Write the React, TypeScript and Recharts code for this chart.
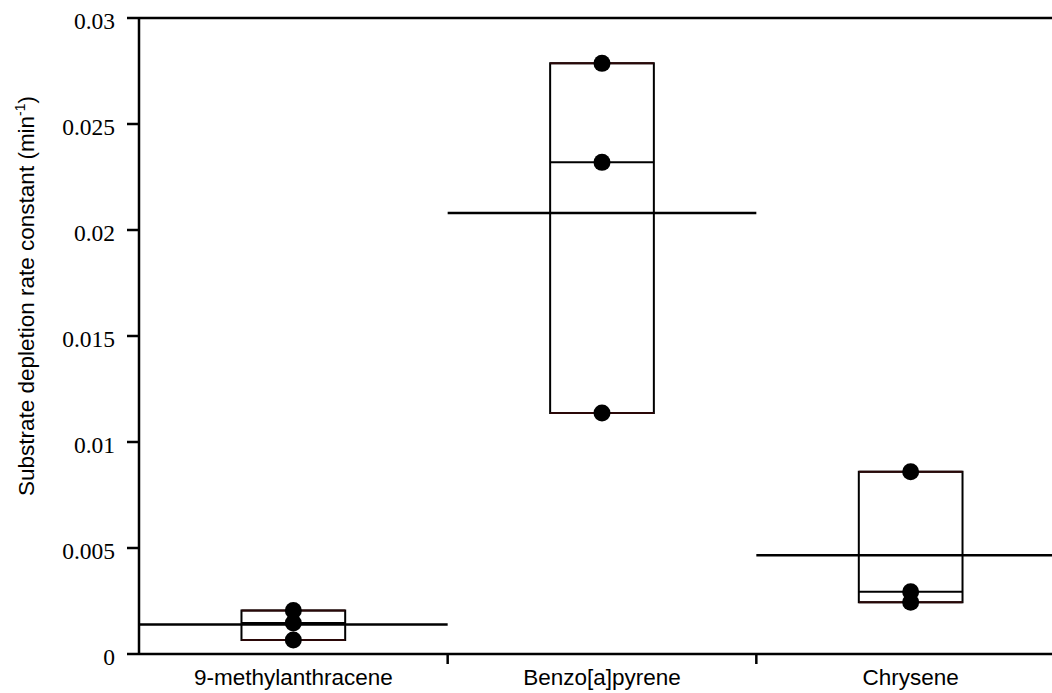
import React from 'react';
import {
  ComposedChart,
  XAxis,
  YAxis,
  Scatter,
  ReferenceArea,
  ReferenceLine,
} from 'recharts';

// Substrate depletion rate constants (min^-1), three replicates per compound
const categories = ['9-methylanthracene', 'Benzo[a]pyrene', 'Chrysene'];
const methylanthraceneRates = [0.00205, 0.00146, 0.00066];
const benzopyreneRates = [0.02786, 0.02319, 0.01137];
const chryseneRates = [0.0086, 0.00294, 0.00244];
const yTicks = [0, 0.005, 0.01, 0.015, 0.02, 0.025, 0.03];
const yTickLabels = ['0', '0.005', '0.01', '0.015', '0.02', '0.025', '0.03'];

const groups = [methylanthraceneRates, benzopyreneRates, chryseneRates];

const BOX_HALF = 0.168;
const BOX_EDGE = '#2a0808';

const sorted = (v: number[]) => [...v].sort((a, b) => a - b);
const median = (v: number[]) => {
  const s = sorted(v);
  const m = Math.floor(s.length / 2);
  return s.length % 2 ? s[m] : (s[m - 1] + s[m]) / 2;
};
const mean = (v: number[]) => v.reduce((a, b) => a + b, 0) / v.length;

const stats = groups.map((vals, i) => ({
  center: i + 0.5,
  min: Math.min(...vals),
  max: Math.max(...vals),
  median: median(vals),
  mean: mean(vals),
}));

const points = groups.flatMap((vals, i) => vals.map((v) => ({ x: i + 0.5, y: v })));

const XTick = (props: any) => {
  const { x, y, payload } = props;
  const v = payload.value as number;
  if (Number.isInteger(v)) {
    return <line x1={x} x2={x} y1={y} y2={y + 10} stroke="#000" strokeWidth={2.5} />;
  }
  return (
    <text
      x={x}
      y={y + 31}
      textAnchor="middle"
      fontFamily="'Liberation Sans', Arial, sans-serif"
      fontSize={22.5}
      fill="#000"
    >
      {categories[Math.floor(v)]}
    </text>
  );
};

const YTick = (props: any) => {
  const { x, y, payload } = props;
  const idx = yTicks.indexOf(payload.value);
  return (
    <text
      x={x}
      y={y + 11}
      textAnchor="end"
      fontFamily="'Liberation Serif', 'Times New Roman', serif"
      fontSize={23.5}
      fill="#000"
    >
      {yTickLabels[idx] ?? payload.value}
    </text>
  );
};

const YLabel = (props: any) => {
  const { viewBox } = props;
  const cx = viewBox.x + 34;
  const cy = viewBox.y + viewBox.height / 2 - 40;
  return (
    <text
      x={cx}
      y={cy}
      transform={`rotate(-90, ${cx}, ${cy})`}
      textAnchor="middle"
      fontFamily="'Liberation Sans', Arial, sans-serif"
      fontSize={22.5}
      fill="#000"
    >
      Substrate depletion rate constant (min
      <tspan fontSize={14} dy={-9}>-1</tspan>
      <tspan dy={9}>)</tspan>
    </text>
  );
};

const Dot = (props: any) => <circle cx={props.cx} cy={props.cy} r={8.5} fill="#000" />;

export default function App() {
  return (
    <div
      style={{
        position: 'fixed',
        left: 0,
        top: 0,
        width: 1052,
        height: 693,
        overflow: 'hidden',
        background: '#fff',
      }}
    >
      <ComposedChart
        width={1075}
        height={693}
        margin={{ top: 18, right: 10, bottom: 0, left: 0 }}
      >
        <XAxis
          type="number"
          dataKey="x"
          domain={[0, 3]}
          ticks={[0.5, 1, 1.5, 2, 2.5]}
          interval={0}
          height={39}
          tickLine={false}
          tickSize={0}
          tickMargin={0}
          axisLine={{ stroke: '#000', strokeWidth: 2.5 }}
          tick={<XTick />}
        />
        <YAxis
          type="number"
          dataKey="y"
          domain={[0, 0.03]}
          ticks={yTicks}
          interval={0}
          width={139}
          tickSize={12}
          tickMargin={12}
          tickLine={{ stroke: '#000', strokeWidth: 2.5 }}
          axisLine={{ stroke: '#000', strokeWidth: 2.5 }}
          tick={<YTick />}
          label={{ content: <YLabel /> }}
        />

        {/* frame along the top of the plot */}
        <ReferenceLine y={0.03} stroke="#000" strokeWidth={2.5} />

        {stats.map((s, i) => (
          <ReferenceArea
            key={`box-${i}`}
            x1={s.center - BOX_HALF}
            x2={s.center + BOX_HALF}
            y1={s.min}
            y2={s.max}
            fill="none"
            fillOpacity={0}
            stroke="#000"
            strokeWidth={2}
          />
        ))}
        {stats.map((s, i) => (
          <ReferenceLine
            key={`top-${i}`}
            segment={[
              { x: s.center - BOX_HALF, y: s.max },
              { x: s.center + BOX_HALF, y: s.max },
            ]}
            stroke={BOX_EDGE}
            strokeWidth={2}
          />
        ))}
        {stats.map((s, i) => (
          <ReferenceLine
            key={`bottom-${i}`}
            segment={[
              { x: s.center - BOX_HALF, y: s.min },
              { x: s.center + BOX_HALF, y: s.min },
            ]}
            stroke={BOX_EDGE}
            strokeWidth={2}
          />
        ))}
        {stats.map((s, i) => (
          <ReferenceLine
            key={`median-${i}`}
            segment={[
              { x: s.center - BOX_HALF, y: s.median },
              { x: s.center + BOX_HALF, y: s.median },
            ]}
            stroke="#000"
            strokeWidth={2}
          />
        ))}
        {/* mean line spans the whole category */}
        {stats.map((s, i) => (
          <ReferenceLine
            key={`mean-${i}`}
            segment={[
              { x: i, y: s.mean },
              { x: i + 1, y: s.mean },
            ]}
            stroke="#000"
            strokeWidth={2.5}
          />
        ))}

        <Scatter data={points} fill="#000" shape={<Dot />} isAnimationActive={false} />
      </ComposedChart>
    </div>
  );
}
